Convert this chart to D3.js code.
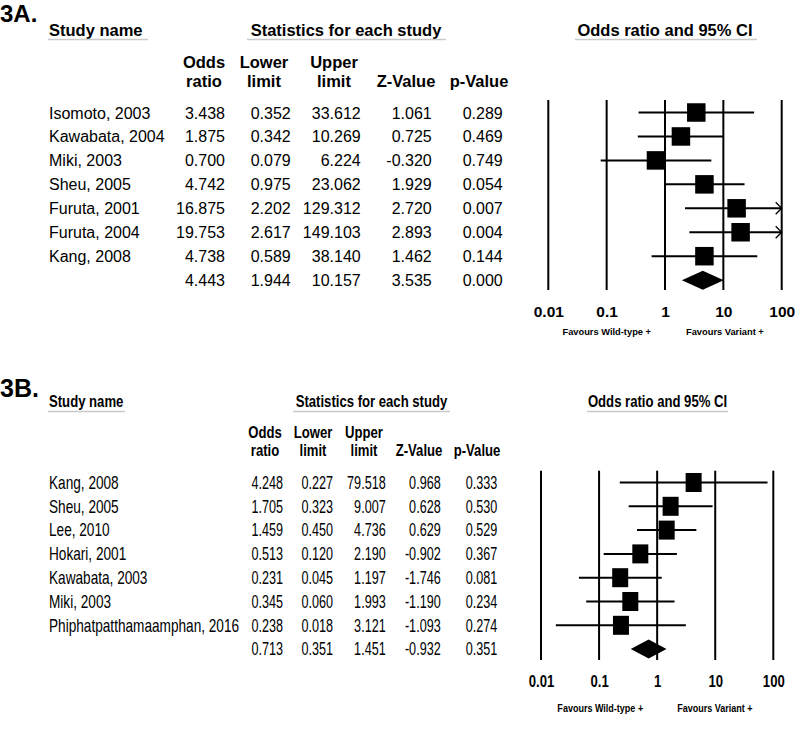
<!DOCTYPE html>
<html><head><meta charset="utf-8">
<script src="https://cdn.jsdelivr.net/npm/d3@7"></script>
<style>body{margin:0;background:#fff} svg{display:block}</style>
</head><body>
<svg id="c" width="800" height="735"></svg>
<script>
// ---------- DATA ----------
const studiesA = ["Isomoto, 2003","Kawabata, 2004","Miki, 2003","Sheu, 2005","Furuta, 2001","Furuta, 2004","Kang, 2008"];
const oddsA  = [3.438, 1.875, 0.700, 4.742, 16.875, 19.753, 4.738];
const lowerA = [0.352, 0.342, 0.079, 0.975, 2.202, 2.617, 0.589];
const upperA = [33.612, 10.269, 6.224, 23.062, 129.312, 149.103, 38.140];
const zA     = [1.061, 0.725, -0.320, 1.929, 2.720, 2.893, 1.462];
const pA     = [0.289, 0.469, 0.749, 0.054, 0.007, 0.004, 0.144];
const summaryA = [4.443, 1.944, 10.157, 3.535, 0.000]; // odds, lower, upper, z, p

const studiesB = ["Kang, 2008","Sheu, 2005","Lee, 2010","Hokari, 2001","Kawabata, 2003","Miki, 2003","Phiphatpatthamaamphan, 2016"];
const oddsB  = [4.248, 1.705, 1.459, 0.513, 0.231, 0.345, 0.238];
const lowerB = [0.227, 0.323, 0.450, 0.120, 0.045, 0.060, 0.018];
const upperB = [79.518, 9.007, 4.736, 2.190, 1.197, 1.993, 3.121];
const zB     = [0.968, 0.628, 0.629, -0.902, -1.746, -1.190, -1.093];
const pB     = [0.333, 0.530, 0.529, 0.367, 0.081, 0.234, 0.274];
const summaryB = [0.713, 0.351, 1.451, -0.932, 0.351];

const tickValues = [0.01, 0.1, 1, 10, 100];
const tickLabels = ["0.01", "0.1", "1", "10", "100"];
const columnLabels = [["Odds","ratio"],["Lower","limit"],["Upper","limit"],["","Z-Value"],["","p-Value"]];
const headerTitles = ["Study name", "Statistics for each study", "Odds ratio and 95% CI"];
const favourLabels = ["Favours Wild-type +", "Favours Variant +"];

// ---------- SETUP ----------
const svg = d3.select("#c");
const fmt = d3.formatLocale({decimal: ".", thousands: ",", grouping: [3], currency: ["", ""], minus: "-"}).format(".3f");

// check for a narrow font
const probe = svg.append("text").attr("font-size", 100).attr("font-family", "'Liberation Sans Narrow','Liberation Sans'").text("abcdefgh");
const wN = probe.node().getComputedTextLength();
probe.attr("font-family", "'Liberation Sans'");
const wR = probe.node().getComputedTextLength();
probe.remove();
const narrowOK = wN / wR < 0.9;

function txt(g, x, y, s, o) {
  const narrow = !!o.narrow;
  const t = g.append("text").text(s)
    .attr("font-size", o.size)
    .attr("font-weight", o.bold ? "bold" : "normal")
    .attr("text-anchor", o.anchor || "start")
    .attr("fill", "#000");
  let sx = o.sx || 1;
  if (narrow && narrowOK) {
    t.attr("font-family", "'Liberation Sans Narrow','Liberation Sans',Arial,sans-serif");
  } else {
    t.attr("font-family", "'Liberation Sans',Arial,sans-serif");
    if (narrow) sx *= 0.82;
  }
  if (sx !== 1) t.attr("transform", `translate(${x},${y}) scale(${sx},1)`);
  else t.attr("x", x).attr("y", y);
  return t;
}

function drawPanel(cfg, names, odds, lower, upper, z, p, summary) {
  const g = svg.append("g");
  const N = cfg.narrow;
  // panel label
  txt(g, 0, cfg.labelY, cfg.label, {size: cfg.labelSize, bold: true});
  // header titles with underlines
  txt(g, cfg.nameX, cfg.headY, headerTitles[0], {size: cfg.headSize, bold: true, narrow: N});
  txt(g, cfg.statCx, cfg.headY, headerTitles[1], {size: cfg.headSize, bold: true, narrow: N, anchor: "middle"});
  txt(g, cfg.ciCx, cfg.headY, headerTitles[2], {size: cfg.headSize, bold: true, narrow: N, anchor: "middle"});
  [cfg.ulStudy, cfg.ulStat, cfg.ulCi].forEach(u => {
    g.append("line").attr("x1", u[0]).attr("x2", u[1]).attr("y1", cfg.ulY).attr("y2", cfg.ulY)
      .attr("stroke", "#c9c9c9").attr("stroke-width", 1.5);
  });
  // column headers
  columnLabels.forEach((lab, i) => {
    lab.forEach((s, j) => {
      if (s) txt(g, cfg.colCenters[i], cfg.colHeadY[j], s, {size: cfg.headSize, bold: true, narrow: N, anchor: "middle"});
    });
  });
  // rows
  const rowY = i => cfg.rowY0 + i * cfg.rowStep;
  names.forEach((nm, i) => {
    const y = rowY(i) + cfg.baseOff;
    txt(g, cfg.nameX, y, nm, {size: cfg.dataSize, narrow: N, sx: cfg.nameSx});
    [odds[i], lower[i], upper[i], z[i], p[i]].forEach((v, k) => {
      txt(g, cfg.dataRight[k], y, fmt(v), {size: cfg.dataSize, narrow: N, anchor: "end", sx: cfg.numSx});
    });
  });
  const sy = rowY(names.length);
  summary.forEach((v, k) => {
    txt(g, cfg.dataRight[k], sy + cfg.baseOff, fmt(v), {size: cfg.dataSize, narrow: N, anchor: "end", sx: cfg.numSx});
  });

  // forest plot
  const x = d3.scaleLog().domain([tickValues[0], tickValues[tickValues.length - 1]]).range(cfg.xRange);
  const xmax = tickValues[tickValues.length - 1], xmin = tickValues[0];
  tickValues.forEach(t => {
    g.append("line").attr("x1", x(t)).attr("x2", x(t)).attr("y1", cfg.gridTop).attr("y2", cfg.gridBottom)
      .attr("stroke", "#000").attr("stroke-width", 2);
  });
  names.forEach((nm, i) => {
    const y = rowY(i);
    const lo = Math.max(lower[i], xmin), hi = Math.min(upper[i], xmax);
    g.append("line").attr("x1", x(lo)).attr("x2", x(hi)).attr("y1", y).attr("y2", y)
      .attr("stroke", "#000").attr("stroke-width", 2);
    if (upper[i] > xmax) {
      const ax = x(xmax);
      g.append("path").attr("d", `M${ax - 6},${y - 6}L${ax},${y}L${ax - 6},${y + 6}`)
        .attr("fill", "none").attr("stroke", "#000").attr("stroke-width", 1.3);
    }
    g.append("rect").attr("x", x(odds[i]) - cfg.sqW / 2).attr("y", y - cfg.sqH / 2)
      .attr("width", cfg.sqW).attr("height", cfg.sqH).attr("fill", "#000");
  });
  const h = cfg.diaH / 2;
  g.append("path")
    .attr("d", `M${x(summary[1])},${sy}L${x(summary[0])},${sy - h}L${x(summary[2])},${sy}L${x(summary[0])},${sy + h}Z`)
    .attr("fill", "#000");

  // axis labels
  const axis = d3.axisBottom(x).tickValues(tickValues).tickFormat((d, i) => tickLabels[i]).tickSize(0).tickPadding(0);
  const ag = g.append("g").attr("transform", `translate(0,${cfg.axisY})`).call(axis);
  ag.select(".domain").remove();
  ag.selectAll("text").attr("y", 0).attr("dy", 0)
    .attr("font-size", cfg.axisSize).attr("font-weight", "bold").attr("fill", "#000")
    .attr("font-family", N && narrowOK ? "'Liberation Sans Narrow','Liberation Sans',Arial,sans-serif" : "'Liberation Sans',Arial,sans-serif");
  if (N && !narrowOK) ag.selectAll("text").attr("transform", "scale(0.82,1)");

  // favours labels
  txt(g, x(1) + cfg.favL, cfg.favY, favourLabels[0], {size: cfg.favSize, bold: true, narrow: N, anchor: "end"});
  txt(g, x(1) + cfg.favR, cfg.favY, favourLabels[1], {size: cfg.favSize, bold: true, narrow: N, anchor: "start"});
}

drawPanel({
  label: "3A.", labelY: 22, labelSize: 24, narrow: false,
  headSize: 16.5, headY: 35.7, ulY: 39.5,
  nameX: 49, statCx: 346, ciCx: 665,
  ulStudy: [48, 148], ulStat: [247, 446], ulCi: [575, 757],
  colHeadY: [68, 87], colCenters: [204, 264, 334, 406, 479],
  dataRight: [225, 290.7, 360.7, 431.7, 502.7],
  rowY0: 112.5, rowStep: 23.95, dataSize: 16, baseOff: 6, nameSx: 1, numSx: 1,
  xRange: [548.3, 781.7], gridTop: 100, gridBottom: 290,
  sqW: 18.5, sqH: 18.5, diaH: 19,
  axisY: 317, axisSize: 15.5,
  favY: 335, favSize: 9.3, favL: -14, favR: 21
}, studiesA, oddsA, lowerA, upperA, zA, pA, summaryA);

drawPanel({
  label: "3B.", labelY: 397, labelSize: 25, narrow: true,
  headSize: 16, headY: 407, ulY: 411.5,
  nameX: 49, statCx: 371.5, ciCx: 657.5,
  ulStudy: [48, 125], ulStat: [293, 450], ulCi: [587, 728],
  colHeadY: [438, 456], colCenters: [265, 313, 364, 419, 477],
  dataRight: [283, 333, 385.7, 440.7, 497.3],
  rowY0: 482.5, rowStep: 23.8, dataSize: 17.5, baseOff: 6.3, nameSx: 0.95, numSx: 0.88,
  xRange: [541, 773.3], gridTop: 470.7, gridBottom: 660,
  sqW: 16, sqH: 19, diaH: 19,
  axisY: 687, axisSize: 16,
  favY: 712, favSize: 11, favL: -14, favR: 20
}, studiesB, oddsB, lowerB, upperB, zB, pB, summaryB);
</script>
</body></html>
